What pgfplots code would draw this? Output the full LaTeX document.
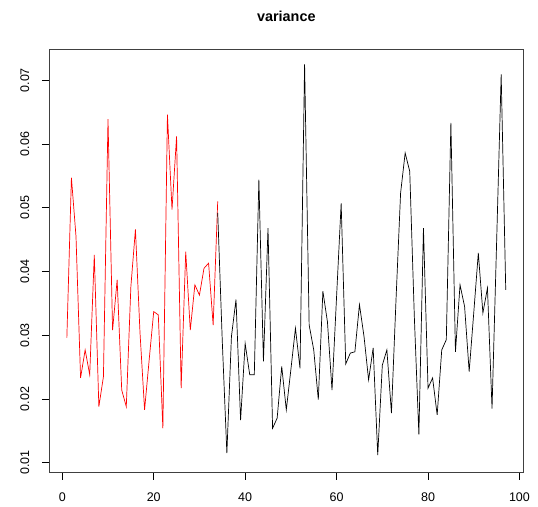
\documentclass[border=0pt]{standalone}
\usepackage{pgfplots}
\pgfplotsset{compat=1.18}
\usepackage{fontspec}
\setmainfont{Liberation Sans}
\begin{document}
\begin{tikzpicture}[x=1pt,y=1pt]
\useasboundingbox (0,0) rectangle (538,506);
\begin{axis}[
  at={(49.3pt,33.7pt)}, anchor=south west,
  scale only axis, width=474pt, height=423.3pt,
  xmin=-2.84, xmax=100.84, ymin=0.0085, ymax=0.0749,
  xtick={0,20,40,60,80,100},
  ytick={0.01,0.02,0.03,0.04,0.05,0.06,0.07},
  xtick pos=bottom, ytick pos=left,
  tick align=outside, major tick length=7.5pt,
  tick style={black, line width=0.6pt},
  axis line style={line width=0.6pt, draw=black!75},
  /pgf/number format/assume math mode=true,
  yticklabel style={/pgf/number format/.cd, fixed, fixed zerofill, precision=2, /tikz/.cd, rotate=90, anchor=south},
  xticklabel style={/pgf/number format/.cd, fixed, precision=0},
  yticklabel shift=9pt, xticklabel shift=9pt,
  tick label style={font=\fontsize{12.5}{12.5}\selectfont},
  scaled y ticks=false,
  title={variance},
  title style={font=\bfseries\fontsize{14.4}{14.4}\selectfont, at={(0.5,1)}, anchor=base, yshift=21pt},
  clip=false,
]
\addplot[red, line width=0.7pt] coordinates {
(1,0.0296) (2,0.0547) (3,0.0455) (4,0.0233) (5,0.0277) (6,0.0238) (7,0.0426) (8,0.0188) (9,0.0235) (10,0.0639)
(11,0.0308) (12,0.0387) (13,0.0214) (14,0.0188) (15,0.0376) (16,0.0466) (17,0.0304) (18,0.0183) (19,0.0261) (20,0.0337)
(21,0.0332) (22,0.0154) (23,0.0646) (24,0.0497) (25,0.0612) (26,0.0217) (27,0.0431) (28,0.0308) (29,0.0379) (30,0.0363)
(31,0.0405) (32,0.0413) (33,0.0316) (34,0.0510)
};
\addplot[black, line width=0.7pt] coordinates {
(34,0.0492) (35,0.0290) (36,0.0115) (37,0.0298) (38,0.0356) (39,0.0167) (40,0.0287)
(41,0.0238) (42,0.0238) (43,0.0544) (44,0.0259) (45,0.0468) (46,0.0154) (47,0.0170) (48,0.0251) (49,0.0183) (50,0.0246)
(51,0.0311) (52,0.0248) (53,0.0725) (54,0.0316) (55,0.0277) (56,0.0199) (57,0.0369) (58,0.0321) (59,0.0214) (60,0.0361)
(61,0.0507) (62,0.0255) (63,0.0272) (64,0.0274) (65,0.0348) (66,0.0298) (67,0.0230) (68,0.0280) (69,0.0112) (70,0.0253)
(71,0.0277) (72,0.0178) (73,0.0356) (74,0.0523) (75,0.0586) (76,0.0557) (77,0.0330) (78,0.0144) (79,0.0468) (80,0.0217)
(81,0.0233) (82,0.0175) (83,0.0277) (84,0.0293) (85,0.0633) (86,0.0274) (87,0.0379) (88,0.0345) (89,0.0243) (90,0.0335)
(91,0.0429) (92,0.0335) (93,0.0374) (94,0.0185) (95,0.0445) (96,0.0709) (97,0.0371)
};
\end{axis}
\end{tikzpicture}
\end{document}
